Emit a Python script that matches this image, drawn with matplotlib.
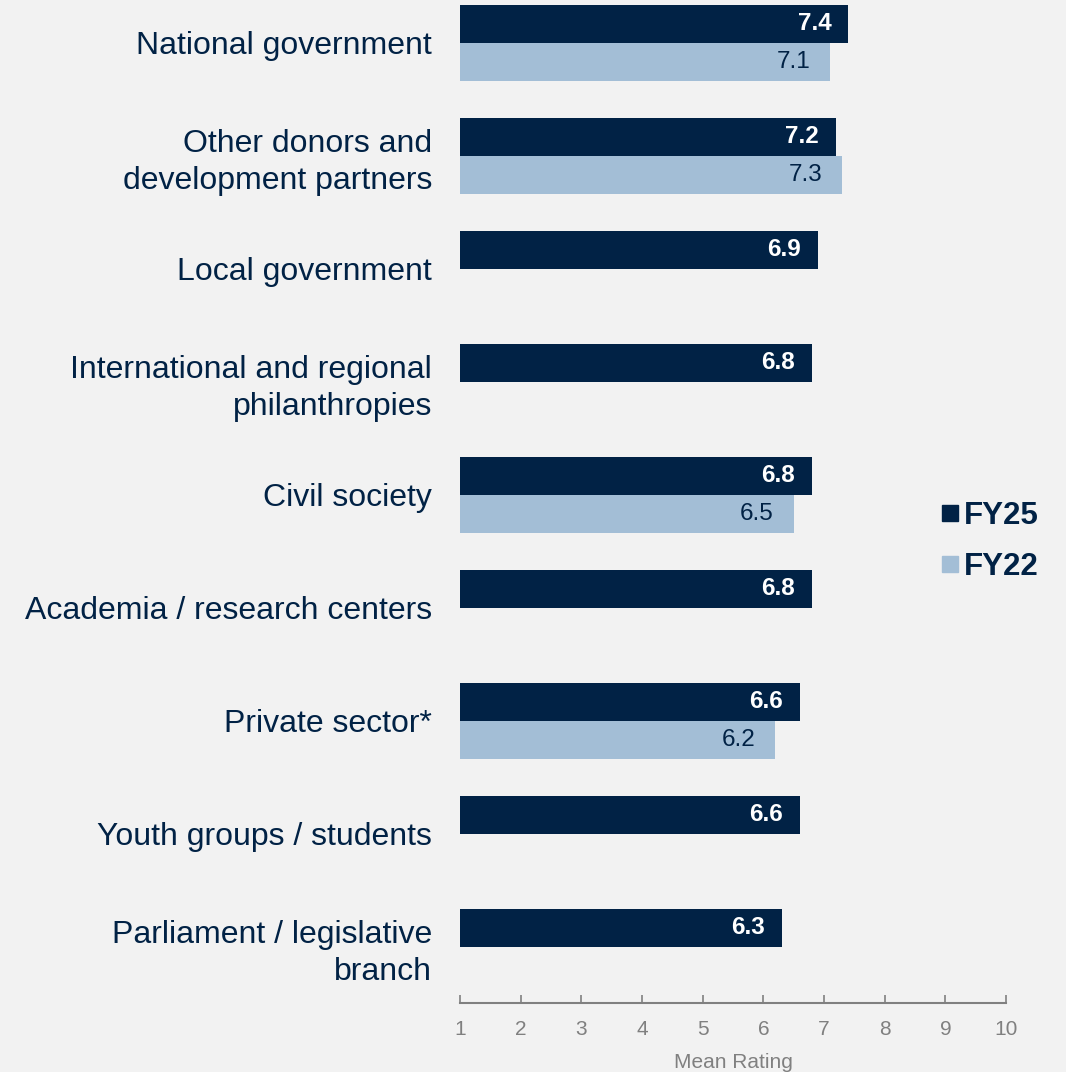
import matplotlib.pyplot as plt
from matplotlib.lines import Line2D
import numpy as np

plt.rcParams['font.family'] = ['Liberation Sans', 'DejaVu Sans']

# Dados
categorias = ['National government', 'Other donors and\ndevelopment partners',
              'Local government', 'International and regional\nphilanthropies',
              'Civil society', 'Academia / research centers', 'Private sector*',
              'Youth groups / students', 'Parliament / legislative\nbranch']
fy25 = [7.4, 7.2, 6.9, 6.8, 6.8, 6.8, 6.6, 6.6, 6.3]
fy22 = [7.1, 7.3, None, None, 6.5, None, 6.2, None, None]
ticks = [1, 2, 3, 4, 5, 6, 7, 8, 9, 10]

navy = '#012245'
azul = '#a3bed6'
fundo = '#f2f2f2'
cinza = '#808080'

fig = plt.figure(figsize=(10.66, 10.72), dpi=100, facecolor=fundo)
ax = fig.add_axes([0.4315, 0.0644, 0.5122, 0.9356], facecolor=fundo)

h = 0.336
y = np.arange(len(categorias))

# Barras FY25 (metade de cima) e FY22 (metade de baixo)
for i, v in enumerate(fy25):
    ax.barh(i - h / 2, v - 1, left=1, height=h, color=navy)
    ax.text(v - 0.28, i - h / 2, f'{v:.1f}', ha='right', va='center',
            color='white', fontsize=17.5, fontweight='bold')
for i, v in enumerate(fy22):
    if v is None:
        continue
    ax.barh(i + h / 2, v - 1, left=1, height=h, color=azul)
    ax.text(v - 0.33, i + h / 2, f'{v:.1f}', ha='right', va='center',
            color=navy, fontsize=17.5)

ax.set_xlim(1, 10)
ax.set_ylim(8.496, -0.38)
ax.set_xticks(ticks)
ax.set_xticklabels([str(t) for t in ticks])
ax.set_yticks(y)
ax.set_yticklabels(categorias, fontsize=23, color=navy, linespacing=1.27)
ax.tick_params(axis='y', length=0, pad=20)
ax.tick_params(axis='x', direction='in', length=6, width=1.2, color=cinza,
               labelcolor=cinza, labelsize=15, pad=12)

for lado in ['top', 'right', 'left']:
    ax.spines[lado].set_visible(False)
ax.spines['bottom'].set_color(cinza)
ax.spines['bottom'].set_linewidth(1.5)

ax.set_xlabel('Mean Rating', color=cinza, fontsize=15, labelpad=10)

# Legenda
handles = [Line2D([], [], marker='s', linestyle='', markersize=12, color=navy, label='FY25'),
           Line2D([], [], marker='s', linestyle='', markersize=12, color=azul, label='FY22')]
leg = fig.legend(handles=handles, loc='center left', bbox_to_anchor=(0.853, 0.495), frameon=False,
                 prop={'size': 22.5, 'weight': 'bold'}, handletextpad=0.05, labelspacing=0.65,
                 handlelength=0.8)
for t in leg.get_texts():
    t.set_color(navy)

fig.savefig('out.png', dpi=100, facecolor=fundo)
